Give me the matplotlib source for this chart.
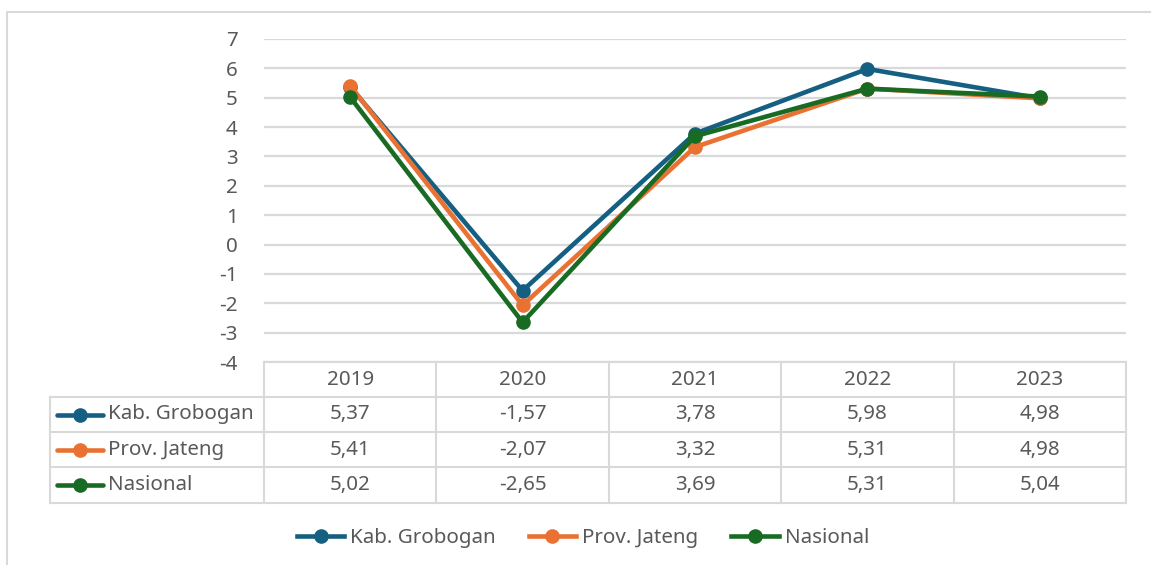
import matplotlib.pyplot as plt
from matplotlib.lines import Line2D

# data
years = ['2019', '2020', '2021', '2022', '2023']
series_names = ['Kab. Grobogan', 'Prov. Jateng', 'Nasional']
grobogan = [5.37, -1.57, 3.78, 5.98, 4.98]
jateng = [5.41, -2.07, 3.32, 5.31, 4.98]
nasional = [5.02, -2.65, 3.69, 5.31, 5.04]
colors = ['#156082', '#E97132', '#196B24']

W, H = 1151, 565
TXT = '#595959'
GRID = '#D9D9D9'
FS = 14.8
MS = 9.5
plt.rcParams['font.family'] = ['Noto Sans', 'DejaVu Sans']
plt.rcParams['axes.unicode_minus'] = False


def fx(px):
    return px / W


def fy(py):
    return 1 - py / H


fig = plt.figure(figsize=(W / 100, H / 100), dpi=100)

# chart border
fig.add_artist(Line2D([fx(7), fx(7), fx(1151)], [fy(565), fy(12), fy(12)],
                      color=GRID, lw=1.5, transform=fig.transFigure))

x0, x1, ytop, ybot = 264, 1126, 39, 362
ax = fig.add_axes([fx(x0), fy(ybot), fx(x1 - x0), (ybot - ytop) / H])
ax.set_xlim(-0.5, 4.5)
ax.set_ylim(-4, 7)
ax.set_yticks(range(-4, 8))
ax.set_xticks([])
ax.grid(axis='y', color=GRID, lw=1.6)
ax.set_axisbelow(True)
for s in ax.spines.values():
    s.set_visible(False)
ax.tick_params(axis='y', length=0, pad=19, labelsize=FS, labelcolor=TXT)

all_series = [grobogan, jateng, nasional]
for vals, c in zip(all_series, colors):
    ax.plot(range(len(years)), vals, color=c, lw=3.3, marker='o', markersize=MS,
            solid_capstyle='round', solid_joinstyle='round', clip_on=False)

# data table
col_edges = [264 + i * (1126 - 264) / 5 for i in range(6)]
row_edges = [362, 397, 432, 467, 503]
tl = dict(color=GRID, lw=1.5, transform=fig.transFigure)
fig.add_artist(Line2D([fx(264), fx(1126)], [fy(362), fy(362)], **tl))
for r in row_edges[1:]:
    fig.add_artist(Line2D([fx(50), fx(1126)], [fy(r), fy(r)], **tl))
for c in col_edges:
    fig.add_artist(Line2D([fx(c), fx(c)], [fy(362), fy(503)], **tl))
fig.add_artist(Line2D([fx(50), fx(50)], [fy(397), fy(503)], **tl))

for i, yr in enumerate(years):
    cx = (col_edges[i] + col_edges[i + 1]) / 2
    fig.text(fx(cx), fy(380), yr, ha='center', va='center', fontsize=FS, color=TXT)
for j, (name, vals, c) in enumerate(zip(series_names, all_series, colors)):
    cy = (row_edges[j + 1] + row_edges[j + 2]) / 2
    fig.add_artist(Line2D([fx(57), fx(103)], [fy(cy), fy(cy)], color=c, lw=3.3,
                          solid_capstyle='round', transform=fig.transFigure))
    fig.add_artist(Line2D([fx(80)], [fy(cy)], color=c, marker='o', markersize=MS,
                          transform=fig.transFigure))
    fig.text(fx(108), fy(cy), name, ha='left', va='center', fontsize=FS, color=TXT)
    for i, v in enumerate(vals):
        cx = (col_edges[i] + col_edges[i + 1]) / 2
        fig.text(fx(cx), fy(cy), f'{v:.2f}'.replace('.', ','), ha='center', va='center',
                 fontsize=FS, color=TXT)

# legend
handles = [Line2D([], [], color=c, lw=3.3, marker='o', markersize=MS) for c in colors]
fig.legend(handles, series_names, loc='center', bbox_to_anchor=(fx(583), fy(538)),
           ncol=3, frameon=False, fontsize=FS, labelcolor=TXT, handlelength=2.3,
           handletextpad=0.3, columnspacing=1.6)

fig.savefig('out.png', dpi=100)
